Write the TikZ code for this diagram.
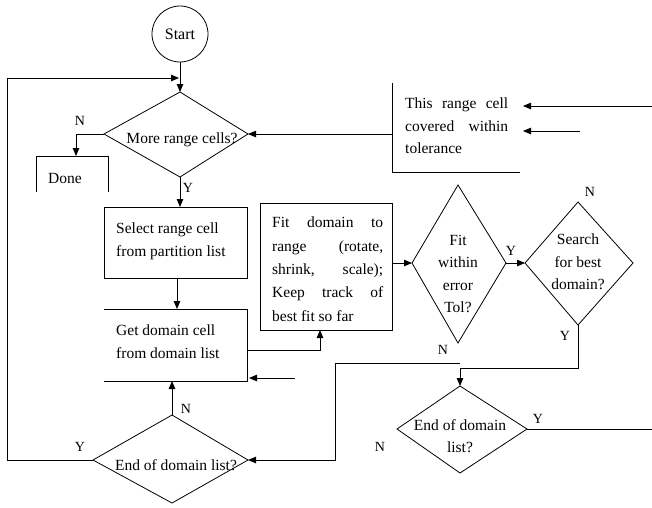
\documentclass[tikz,border=0pt]{standalone}
\usepackage{fontspec}
\setmainfont{Liberation Serif}
\usetikzlibrary{arrows.meta}
\tikzset{
  flow/.style={line width=0.8pt},
  arr/.style={flow,-{Triangle[length=8pt,width=6.5pt]}},
  txt/.style={font=\fontsize{15.5}{22.5}\selectfont,inner sep=0pt},
  yn/.style={font=\fontsize{14}{14}\selectfont,inner sep=0pt},
}

\begin{document}
\begin{tikzpicture}[x=1pt,y=-1pt]
\useasboundingbox (0,0) rectangle (652,507);

% start
\node[draw,flow,circle,minimum size=56pt,inner sep=0pt,font=\fontsize{16}{16}\selectfont] (start) at (180,34) {Start};

% diamond: more range cells
\coordinate (m1) at (180,92);
\coordinate (m2) at (104,134);
\coordinate (m3) at (180,177);
\coordinate (m4) at (248,134);
% diamond: fit within error
\coordinate (f1) at (458,185);
\coordinate (f2) at (412,263);
\coordinate (f3) at (458,343);
\coordinate (f4) at (506,263);
% diamond: search for best domain
\coordinate (s1) at (578,202);
\coordinate (s2) at (525,263);
\coordinate (s3) at (578,325);
\coordinate (s4) at (633,263);
% diamond: end of domain list (right)
\coordinate (e1) at (460,386);
\coordinate (e2) at (397,429);
\coordinate (e3) at (460,473);
\coordinate (e4) at (527,429);
% diamond: end of domain list (left)
\coordinate (l1) at (172,415);
\coordinate (l2) at (93,460);
\coordinate (l3) at (172,503);
\coordinate (l4) at (248,460);

\draw[flow] (m1) -- (m2) -- (m3) -- (m4) -- cycle;
\draw[flow] (f1) -- (f2) -- (f3) -- (f4) -- cycle;
\draw[flow] (s1) -- (s2) -- (s3) -- (s4) -- cycle;
\draw[flow] (e1) -- (e2) -- (e3) -- (e4) -- cycle;
\draw[flow] (l1) -- (l2) -- (l3) -- (l4) -- cycle;

% boxes
\coordinate (dn) at (76,156);
\draw[flow] (36,192) -- (36,156) -- (108,156) -- (108,192);
\coordinate (sel) at (180,207);
\coordinate (selb) at (177,278);
\draw[flow] (104,207) rectangle (247,278);
\coordinate (get) at (177,309);
\coordinate (getb) at (172,381);
\coordinate (getr) at (247,350);
\coordinate (getc) at (249,378);
\draw[flow] (104,309) -- (247,309) -- (247,381) -- (104,381);
\coordinate (fitb) at (320,330);
\coordinate (fitr) at (392,263);
\draw[flow] (260,203) rectangle (392,330);
\coordinate (rng) at (392,134);
\coordinate (rnga) at (523,106);
\coordinate (rngb) at (523,131);
\draw[flow] (392,83) -- (392,172) -- (520,172);

% texts
\node[txt] (t1) at (182,140) {More range cells?};
\node[txt] (t2) at (65,178) {Done};
\node[txt,anchor=north west,align=left] (t3) at (116,223) {Select range cell\\from partition list};
\node[txt,anchor=north west,align=left] (t4) at (116,325) {Get domain cell\\from domain list};
\node[txt,anchor=north west,text width=111pt,align=justify,
  font=\fontsize{15.5}{23.3}\selectfont] (t5) at (272,217)
  {Fit domain to\linebreak range (rotate,\linebreak shrink, scale);\linebreak Keep track of\linebreak best fit so far};
\node[txt,align=center] (t6) at (458,274) {Fit\\within\\error\\Tol?};
\node[txt,align=center] (t7) at (578,262) {Search\\for best\\domain?};
\node[txt,align=center] (t8) at (460,436) {End of domain\\list?};
\node[txt] (t9) at (176,465) {End of domain list?};
\node[txt,anchor=north west,text width=103pt,align=justify] (t10) at (405,98)
  {This range cell\linebreak covered within\linebreak tolerance};

% Y / N labels
\node[yn] (n1) at (80,121) {N};
\node[yn] (y1) at (188,188) {Y};
\node[yn] (y2) at (511,251) {Y};
\node[yn] (n2) at (590,192) {N};
\node[yn] (y3) at (565,336) {Y};
\node[yn] (n3) at (443,350) {N};
\node[yn] (n4) at (380,447) {N};
\node[yn] (y4) at (538,419) {Y};
\node[yn] (y5) at (80,447) {Y};
\node[yn] (n5) at (186,409) {N};

% connectors
\draw[arr] (start) -- (m1);
\draw[arr] (m2) -| (dn);
\draw[arr] (m3) -- (sel);
\draw[arr] (selb) -- (get);
\draw[arr] (getr) -| (fitb);
\draw[arr] (fitr) -- (f2);
\draw[arr] (f4) -- (s2);
\draw[arr] (s3) |- (460,368) -- (e1);
\draw[arr] (460,363) -| (335,460) -- (l4);
\draw[flow] (e4) -- (652,429);
\draw[arr] (l1) -- (getb);
\draw[arr] (l2) -| (7,78) -- (179,78);
\draw[arr] (295,378) -- (getc);
\draw[arr] (rng) -- (m4);
\draw[arr] (652,106) -- (rnga);
\draw[arr] (580,131) -- (rngb);
\end{tikzpicture}
\end{document}
